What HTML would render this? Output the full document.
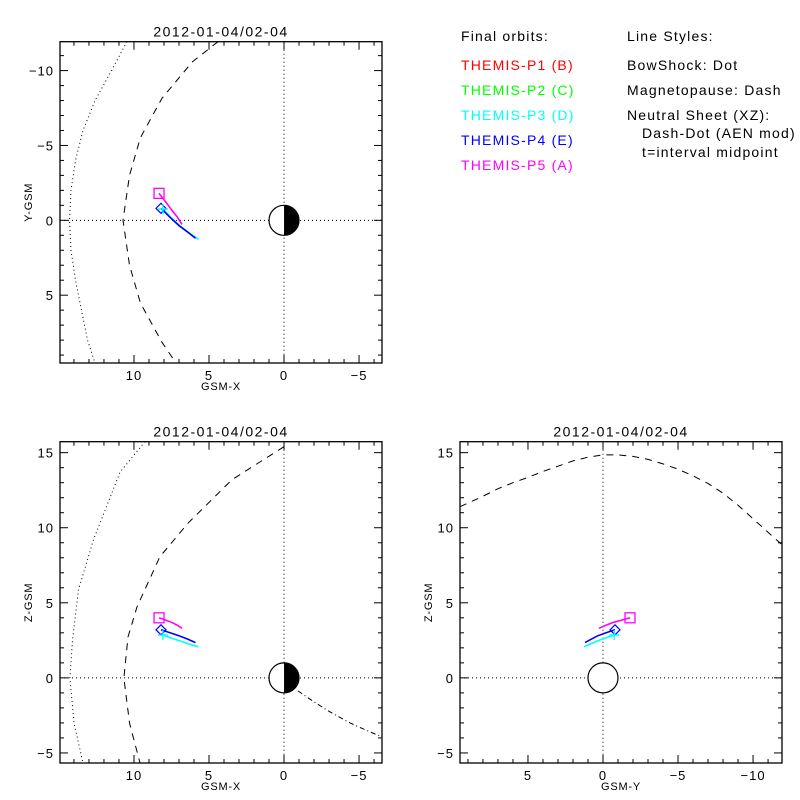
<!DOCTYPE html>
<html><head><meta charset="utf-8"><style>
body{margin:0;background:#fff}
svg{display:block;font-family:"Liberation Sans",sans-serif}
</style></head><body>
<svg id="fig" width="800" height="800" viewBox="0 0 800 800">
<rect width="800" height="800" fill="#fff"/>
<g font-size="14" letter-spacing="1.2">
<text x="461" y="41">Final orbits:</text>
<text x="461" y="70" fill="#ff0000">THEMIS-P1 (B)</text>
<text x="461" y="95" fill="#00ff00">THEMIS-P2 (C)</text>
<text x="461" y="120" fill="#00ffff">THEMIS-P3 (D)</text>
<text x="461" y="145" fill="#0000ff">THEMIS-P4 (E)</text>
<text x="461" y="170" fill="#ff00ff">THEMIS-P5 (A)</text>
<text x="627" y="41">Line Styles:</text>
<text x="627" y="70">BowShock: Dot</text>
<text x="627" y="95">Magnetopause: Dash</text>
<text x="627" y="120">Neutral Sheet (XZ):</text>
<text x="642" y="138">Dash-Dot (AEN mod)</text>
<text x="642" y="157">t=interval midpoint</text>
</g>
</svg>
<script>
// Orbit data (GSM, Re)
const p5X=[8.33,7.9,7.5,7.1,6.8], p5Y=[-1.8,-1.25,-0.7,-0.2,0.27], p5Z=[4.0,3.85,3.7,3.5,3.3];
const p4X=[8.2,7.6,7.0,6.4,5.9], p4Y=[-0.8,-0.2,0.35,0.8,1.2], p4Z=[3.2,3.0,2.8,2.57,2.35];
const p3X=[8.07,7.5,6.9,6.3,5.7], p3Y=[-0.75,-0.15,0.4,0.87,1.27], p3Z=[2.85,2.65,2.45,2.25,2.07];
// Boundaries
const bsXY_x=[10.47,11.5,12.6,13.4,13.9,14.2,14.3,14.2,13.9,13.5,13.1,12.6];
const bsXY_y=[-11.93,-10,-8,-6,-4,-2,0,2,4,6,8,9.53];
const mpXY_x=[4.4,6.11,8.14,9.57,10.3,10.73,10.3,9.57,8.14,7.2];
const mpXY_y=[-11.93,-10.58,-8.14,-5.52,-3,0,3,5.52,8.14,9.53];
const bsXZ_x=[9.27,10.93,12.7,13.7,14.1,14.27,14.0,13.4];
const bsXZ_z=[15.73,13.7,9.2,5.87,2.5,0,-3,-5.67];
const mpXZ_x=[0,3.47,6.4,8.27,9.8,10.4,10.67,10.3,9.6];
const mpXZ_z=[15.4,13.2,10.3,8.07,4.73,2.73,0,-3,-5.67];
const nsXZ_x=[-0.93,-2,-3.07,-4.4,-5.5,-6.53];
const nsXZ_z=[-0.87,-1.6,-2.27,-3.0,-3.5,-3.93];
const mpYZ_y=[9.53,8,7,6,5,4,3,2,1,0,-1,-2,-3,-4,-5,-6,-7,-8,-9,-10,-11,-11.93];
const mpYZ_z=[11.4,12.1,12.6,13.0,13.35,13.75,14.1,14.45,14.7,14.85,14.85,14.75,14.55,14.25,13.9,13.45,12.95,12.3,11.5,10.6,9.7,8.87];
const ticksMajorXtop=[10,5,0,-5], ticksMajorYtop=[-10,-5,0,5];
const ticksZ=[15,10,5,0,-5], ticksYbr=[5,0,-5,-10];

const NS='http://www.w3.org/2000/svg', svg=document.getElementById('fig');
function el(tag,attrs,parent){const e=document.createElementNS(NS,tag);for(const k in attrs)e.setAttribute(k,attrs[k]);(parent||svg).appendChild(e);return e;}

function panel(name,box,xr,yr,xlab,ylab,xt,yt){
  const g=el('g',{});
  
  
  const sx=v=>box.x0+(v-xr[0])/(xr[1]-xr[0])*(box.x1-box.x0);
  const sy=v=>box.y0+(v-yr[0])/(yr[1]-yr[0])*(box.y1-box.y0);
  const clipId=name+'-clip';
  const cp=el('clipPath',{id:clipId},g); el('rect',{x:box.x0,y:box.y0,width:box.x1-box.x0,height:box.y1-box.y0},cp);
  const inner=el('g',{'clip-path':'url(#'+clipId+')'},g);
  const zx=el('line',{x1:sx(0),x2:sx(0),y1:box.y0,y2:box.y1,stroke:'#000','stroke-dasharray':'1 3'},inner);
  
  
  const zy=el('line',{x1:box.x0,x2:box.x1,y1:sy(0),y2:sy(0),stroke:'#000','stroke-dasharray':'1 3'},inner);
  
  
  const b=el('rect',{x:box.x0,y:box.y0,width:box.x1-box.x0,height:box.y1-box.y0,fill:'none',stroke:'#000','stroke-width':1.3},g);
  
  
  const lo=Math.ceil(Math.min(...xr)),hi=Math.floor(Math.max(...xr));
  for(let v=lo;v<=hi;v++){const L=(v%5===0)?8:4,x=sx(v);
    el('line',{x1:x,x2:x,y1:box.y1,y2:box.y1-L,stroke:'#000'},g);el('line',{x1:x,x2:x,y1:box.y0,y2:box.y0+L,stroke:'#000'},g);}
  const lo2=Math.ceil(Math.min(...yr)),hi2=Math.floor(Math.max(...yr));
  for(let v=lo2;v<=hi2;v++){const L=(v%5===0)?8:4,y=sy(v);
    el('line',{x1:box.x0,x2:box.x0+L,y1:y,y2:y,stroke:'#000'},g);el('line',{x1:box.x1,x2:box.x1-L,y1:y,y2:y,stroke:'#000'},g);}
  xt.forEach(v=>{const t=el('text',{x:sx(v),y:box.y1+17,'text-anchor':'middle','font-size':13,'letter-spacing':1},g);t.textContent=v<0?'\u2212'+(-v):v;
    
    });
  yt.forEach(v=>{const t=el('text',{x:box.x0-6,y:sy(v)+5,'text-anchor':'end','font-size':13,'letter-spacing':1},g);t.textContent=v<0?'\u2212'+(-v):v;
    
    });
  const xl=el('text',{x:(box.x0+box.x1)/2,y:box.y1+27,'text-anchor':'middle','font-size':11,'letter-spacing':0.8},g);xl.textContent=xlab;
  
  
  const cy=(box.y0+box.y1)/2;
  const yl=el('text',{x:box.x0-32,y:cy+4,'text-anchor':'middle','font-size':11,'letter-spacing':0.8,transform:'rotate(-90 '+(box.x0-32)+' '+cy+')'},g);
  yl.textContent=ylab;
  
  
  const tt=el('text',{x:(box.x0+box.x1)/2,y:box.y0-5,'text-anchor':'middle','font-size':14,'letter-spacing':1.5},g);tt.textContent='2012-01-04/02-04';
  
  
  return {g,inner,sx,sy};
}
function curve(P,xs,ys,dash,name,color){
  const d=xs.map((v,i)=>(i?'L':'M')+P.sx(v).toFixed(1)+' '+P.sy(ys[i]).toFixed(1)).join('');
  const p=el('path',{d,fill:'none',stroke:color||'#000','stroke-width':color?1.6:1,'stroke-dasharray':dash||'none'},P.inner);
  
  
  return p;
}
function earth(P,half){
  const cx=P.sx(0),cy=P.sy(0),r=Math.abs(P.sx(1)-P.sx(0));
  const c=el('circle',{cx,cy,r,fill:'#fff',stroke:'#000','stroke-width':1.2},P.inner);
  
  
  if(half){const h=el('path',{d:`M${cx} ${cy-r}A${r} ${r} 0 0 1 ${cx} ${cy+r}Z`,fill:'#000'},P.inner);
    
    }
}
function marks(P,a){
  const s=el('rect',{x:P.sx(a.p5[0][0])-5,y:P.sy(a.p5[1][0])-5,width:10,height:10,fill:'none',stroke:'#ff00ff','stroke-width':1.3},P.inner);
  
  
  const x=P.sx(a.p4[0][0]),y=P.sy(a.p4[1][0]);
  const dm=el('path',{d:`M${x} ${y-5}L${x+5} ${y}L${x} ${y+5}L${x-5} ${y}Z`,fill:'none',stroke:'#0000ff','stroke-width':1.2},P.inner);
  
  
  const x3=P.sx(a.p3[0][0]),y3=P.sy(a.p3[1][0]);
  const cr=el('path',{d:`M${x3-5} ${y3}H${x3+5}M${x3} ${y3-5}V${y3+5}`,stroke:'#00ffff','stroke-width':1.3},P.inner);
  
  
}
function orbits(P,o){
  curve(P,o.p3[0],o.p3[1],null,'orbit-p3','#00ffff');
  curve(P,o.p4[0],o.p4[1],null,'orbit-p4','#0000ff');
  curve(P,o.p5[0],o.p5[1],null,'orbit-p5','#ff00ff');
  marks(P,o);
}
const A=panel('panel-xy',{x0:60,x1:382,y0:41.7,y1:363},[14.93,-6.53],[-11.93,9.53],'GSM-X','Y-GSM',ticksMajorXtop,ticksMajorYtop);
curve(A,bsXY_x,bsXY_y,'1 3','bow-shock');
curve(A,mpXY_x,mpXY_y,'7 6','magnetopause');
earth(A,true);
orbits(A,{p5:[p5X,p5Y],p4:[p4X,p4Y],p3:[p3X,p3Y]});
const B=panel('panel-xz',{x0:60,x1:382,y0:441.7,y1:763},[14.93,-6.53],[15.73,-5.67],'GSM-X','Z-GSM',ticksMajorXtop,ticksZ);
curve(B,bsXZ_x,bsXZ_z,'1 3','bow-shock');
curve(B,mpXZ_x,mpXZ_z,'7 6','magnetopause');
curve(B,nsXZ_x,nsXZ_z,'5 3 1 3','neutral-sheet');
earth(B,true);
orbits(B,{p5:[p5X,p5Z],p4:[p4X,p4Z],p3:[p3X,p3Z]});
const C=panel('panel-yz',{x0:460,x1:782,y0:441.7,y1:763},[9.53,-11.93],[15.73,-5.67],'GSM-Y','Z-GSM',ticksYbr,ticksZ);
curve(C,mpYZ_y,mpYZ_z,'7 6','magnetopause');
earth(C,false);
orbits(C,{p5:[p5Y,p5Z],p4:[p4Y,p4Z],p3:[p3Y,p3Z]});
</script>
</body></html>
